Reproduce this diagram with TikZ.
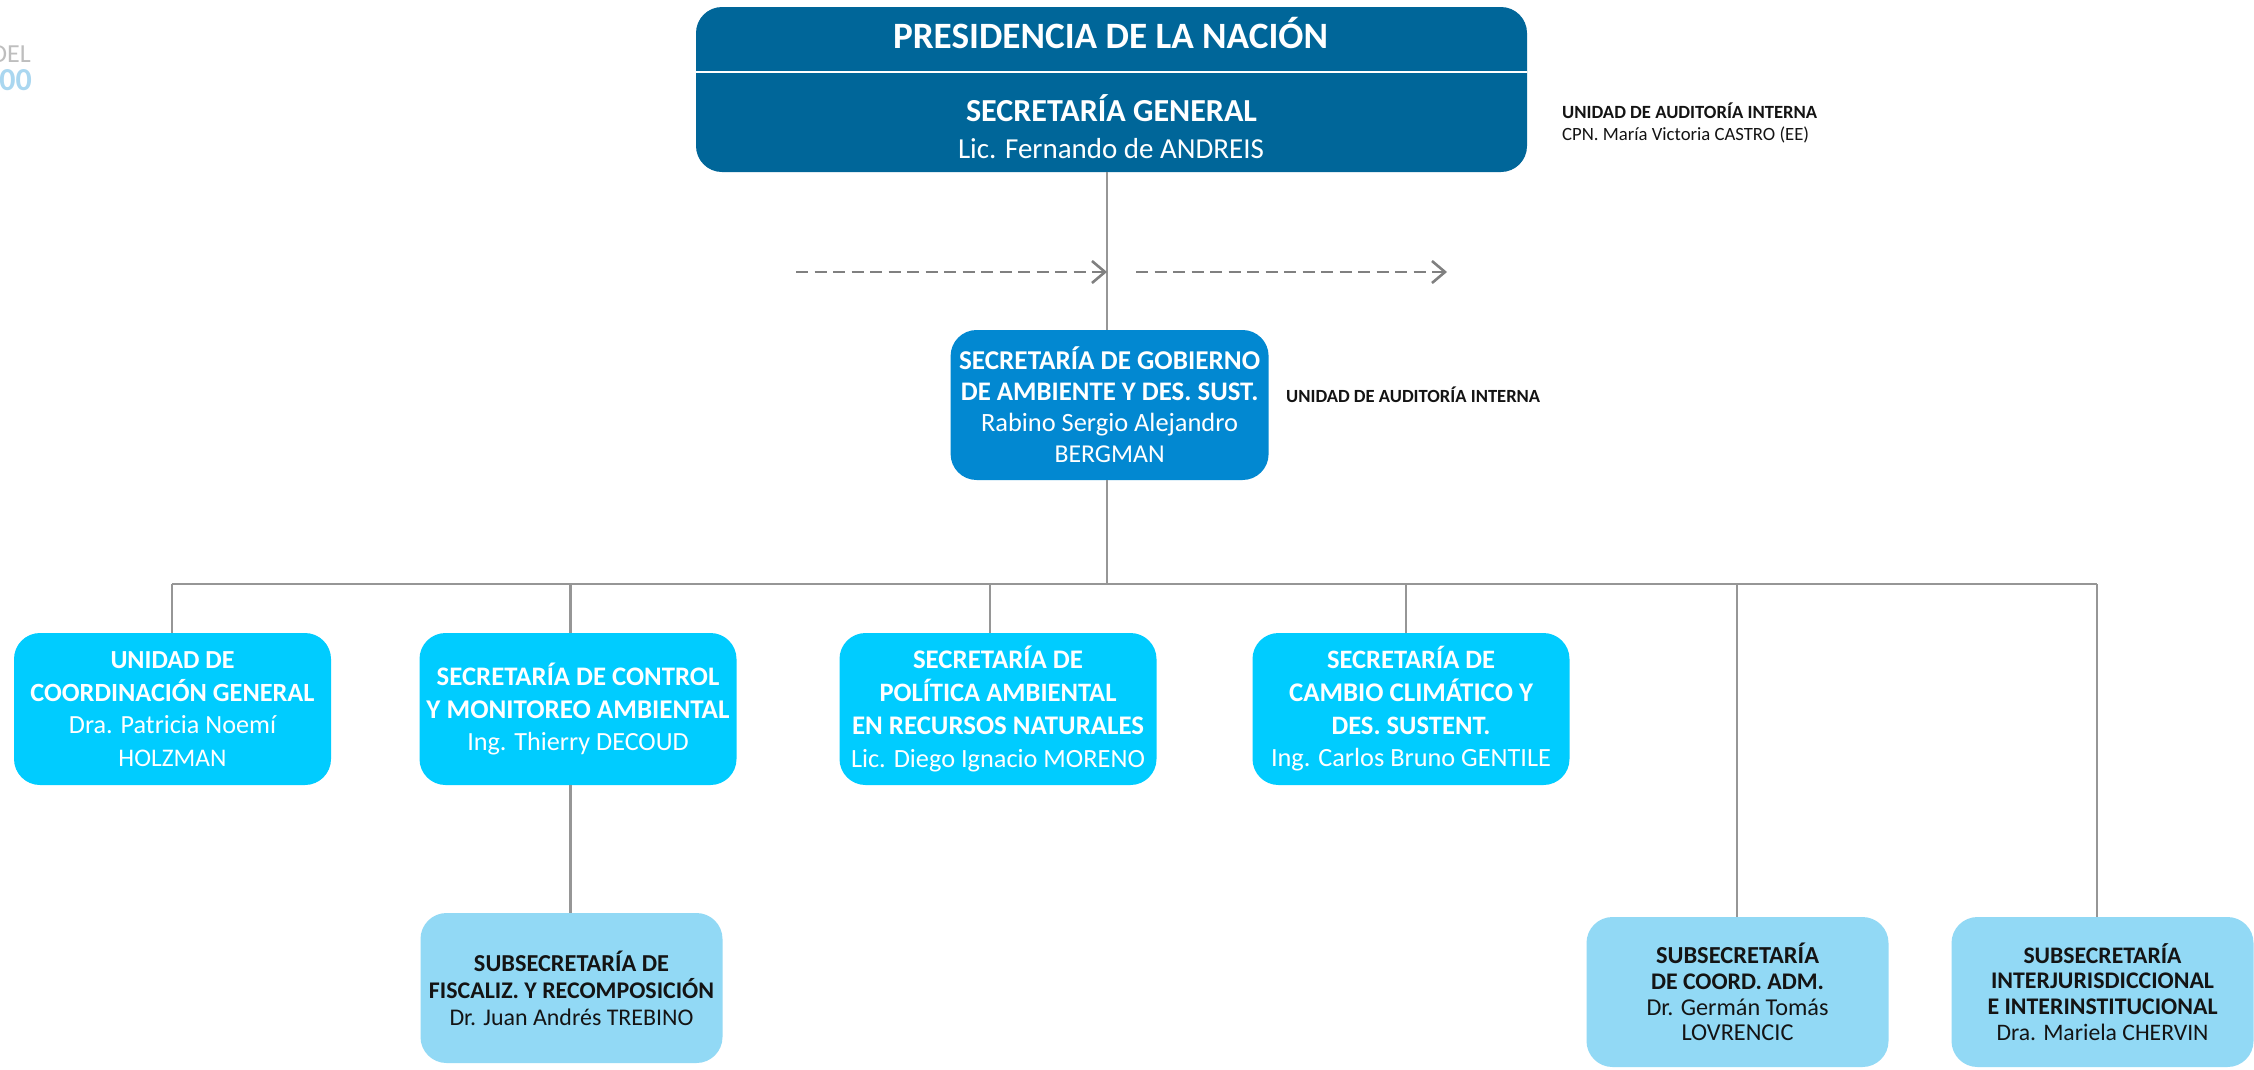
\documentclass[tikz,border=0pt]{standalone}
\usepackage{fontspec}
\usepackage{graphicx}
\setmainfont{Carlito}
\usetikzlibrary{arrows.meta}
\definecolor{presblue}{RGB}{0,102,153}
\definecolor{midblue}{RGB}{2,136,209}
\definecolor{cyanbox}{RGB}{0,204,255}
\definecolor{lightbox}{RGB}{146,217,245}
\definecolor{linegray}{RGB}{150,150,150}
\definecolor{dashgray}{RGB}{128,128,128}
\definecolor{wmgray}{RGB}{190,190,190}
\definecolor{wmblue}{RGB}{170,215,240}
\definecolor{darktext}{RGB}{20,20,20}
% fit a line of text to a measured width (aspect ratio kept)
\newcommand{\fw}[2]{\resizebox{#1pt}{!}{#2}}
\newcommand{\fb}[2]{\resizebox{#1pt}{!}{\bfseries #2}}
\tikzset{
  orgbox/.style={rounded corners=26pt, inner sep=0pt, align=center},
  rowone/.style={orgbox, fill=cyanbox, text=white, minimum width=317pt, minimum height=152pt, font=\fontsize{26}{32.7}\selectfont},
  rowtwo/.style={orgbox, fill=lightbox, text=darktext, minimum width=302pt, minimum height=150pt},
  conn/.style={draw=linegray, line width=2.2pt},
  dasharr/.style={draw=dashgray, line width=2.6pt, dash pattern=on 12pt off 6.5pt,
     -{Straight Barb[length=13pt,width=22pt,line width=2.6pt]}},
  audit/.style={inner sep=0pt, text=darktext, font=\fontsize{18.5}{22}\selectfont},
}
\begin{document}
\begin{tikzpicture}[x=1pt,y=-1pt]
\useasboundingbox (0,0) rectangle (2254,1069);
\fill[white] (0,0) rectangle (2254,1069);
% watermark fragment
\begin{scope}
\clip (0,0) rectangle (2254,1069);
\node[anchor=base east, inner sep=0pt, text=wmgray, font=\fontsize{26}{28}\selectfont] (wmdel) at (31,62) {DEL};
\node[anchor=base east, inner sep=0pt, text=wmblue, font=\fontsize{32}{34}\selectfont\bfseries] (wmzero) at (32,90) {00};
\end{scope}
% top box
\node[orgbox, fill=presblue, minimum width=831pt, minimum height=165pt] (pres) at (1111.5,89.5) {};
\coordinate (divy) at (0,72);
\draw[white, line width=1.3pt] (pres.west |- divy) -- (pres.east |- divy);
\node[anchor=base, inner sep=0pt, text=white, font=\fontsize{37}{42}\selectfont] (presT) at (1110.5,48.3) {\fb{435}{PRESIDENCIA DE LA NACIÓN}};
\node[anchor=base, inner sep=0pt, text=white, font=\fontsize{31}{36}\selectfont] (sgT) at (1111.5,121.7) {\fb{291}{SECRETARÍA GENERAL}};
\node[anchor=base, inner sep=0pt, text=white, font=\fontsize{29}{34}\selectfont] (sgN) at (1111,158.3) {\fw{306}{Lic. Fernando de ANDREIS}};
% audit texts
\node[audit, anchor=base west] (audA) at (1562,118.3) {\fb{255}{UNIDAD DE AUDITORÍA INTERNA}};
\node[audit, anchor=base west] (audB) at (1562,140) {\fw{247}{CPN. María Victoria CASTRO (EE)}};
% middle box
\node[orgbox, fill=midblue, text=white, minimum width=318pt, minimum height=150pt, font=\fontsize{27}{31}\selectfont] (sga) at (1109.6,405)
  {\fb{301}{SECRETARÍA DE GOBIERNO}\\ \fb{297.5}{DE AMBIENTE Y DES. SUST.}\\ \fw{257}{Rabino Sergio Alejandro}\\ \fw{110}{BERGMAN}};
\node[audit, anchor=base west] (audC) at (1286,402) {\fb{254}{UNIDAD DE AUDITORÍA INTERNA}};
% row one
\node[rowone] (ucg) at (172.5,709) {\fb{124}{UNIDAD DE}\\ \fb{284}{COORDINACIÓN GENERAL}\\ \fw{207}{Dra. Patricia Noemí}\\ \fw{108}{HOLZMAN}};
\node[rowone] (scm) at (578,709) {\fb{282.6}{SECRETARÍA DE CONTROL}\\ \fb{303}{Y MONITOREO AMBIENTAL}\\ \fw{221.5}{Ing. Thierry DECOUD}};
\node[rowone] (spa) at (998,709) {\fb{170}{SECRETARÍA DE}\\ \fb{237}{POLÍTICA AMBIENTAL}\\ \fb{292}{EN RECURSOS NATURALES}\\ \fw{294}{Lic. Diego Ignacio MORENO}};
\node[rowone] (scc) at (1411,709) {\fb{168}{SECRETARÍA DE}\\ \fb{244}{CAMBIO CLIMÁTICO Y}\\ \fb{159}{DES. SUSTENT.}\\ \fw{280}{Ing. Carlos Bruno GENTILE}};
% row two
\node[rowtwo, font=\fontsize{24}{27}\selectfont] (sfr) at (571.5,988) {\fb{195}{SUBSECRETARÍA DE}\\ \fb{285}{FISCALIZ. Y RECOMPOSICIÓN}\\ \fw{244}{Dr. Juan Andrés TREBINO}};
\node[rowtwo, font=\fontsize{22}{25.8}\selectfont] (sca) at (1737.5,992) {\fb{163}{SUBSECRETARÍA}\\ \fb{173}{DE COORD. ADM.}\\ \fw{182}{Dr. Germán Tomás}\\ \fw{112}{LOVRENCIC}};
\node[rowtwo, font=\fontsize{22}{25.8}\selectfont] (sii) at (2102.5,992) {\fb{158}{SUBSECRETARÍA}\\ \fb{223}{INTERJURISDICCIONAL}\\ \fb{230}{E INTERINSTITUCIONAL}\\ \fw{212}{Dra. Mariela CHERVIN}};
% connector coordinates
\coordinate (spine) at (1107,0);
\coordinate (busL) at (172,584);
\coordinate (busR) at (2097,584);
\coordinate (dtwo) at (570.5,584);
\coordinate (dthree) at (990,584);
\coordinate (dfour) at (1406,584);
\coordinate (dfive) at (1737,584);
\coordinate (dsix) at (2097,584);
% connectors
\draw[conn] (pres.south -| spine) -- (sga.north -| spine);
\draw[conn] (sga.south -| spine) -- (busL -| spine);
\draw[conn] (busL) -- (busR);
\draw[conn] (busL) -- (ucg.north -| busL);
\draw[conn] (dtwo) -- (scm.north -| dtwo);
\draw[conn] (dthree) -- (spa.north -| dthree);
\draw[conn] (dfour) -- (scc.north -| dfour);
\draw[conn] (dfive) -- (sca.north -| dfive);
\draw[conn] (dsix) -- (sii.north -| dsix);
\draw[conn] (scm.south -| dtwo) -- (sfr.north -| dtwo);
% dashed arrows
\coordinate (la) at (796,272);
\coordinate (lb) at (1107,272);
\coordinate (ra) at (1136,272);
\coordinate (rb) at (1447,272);
\draw[dasharr] (la) -- (lb);
\draw[dasharr] (ra) -- (rb);
\end{tikzpicture}
\end{document}
